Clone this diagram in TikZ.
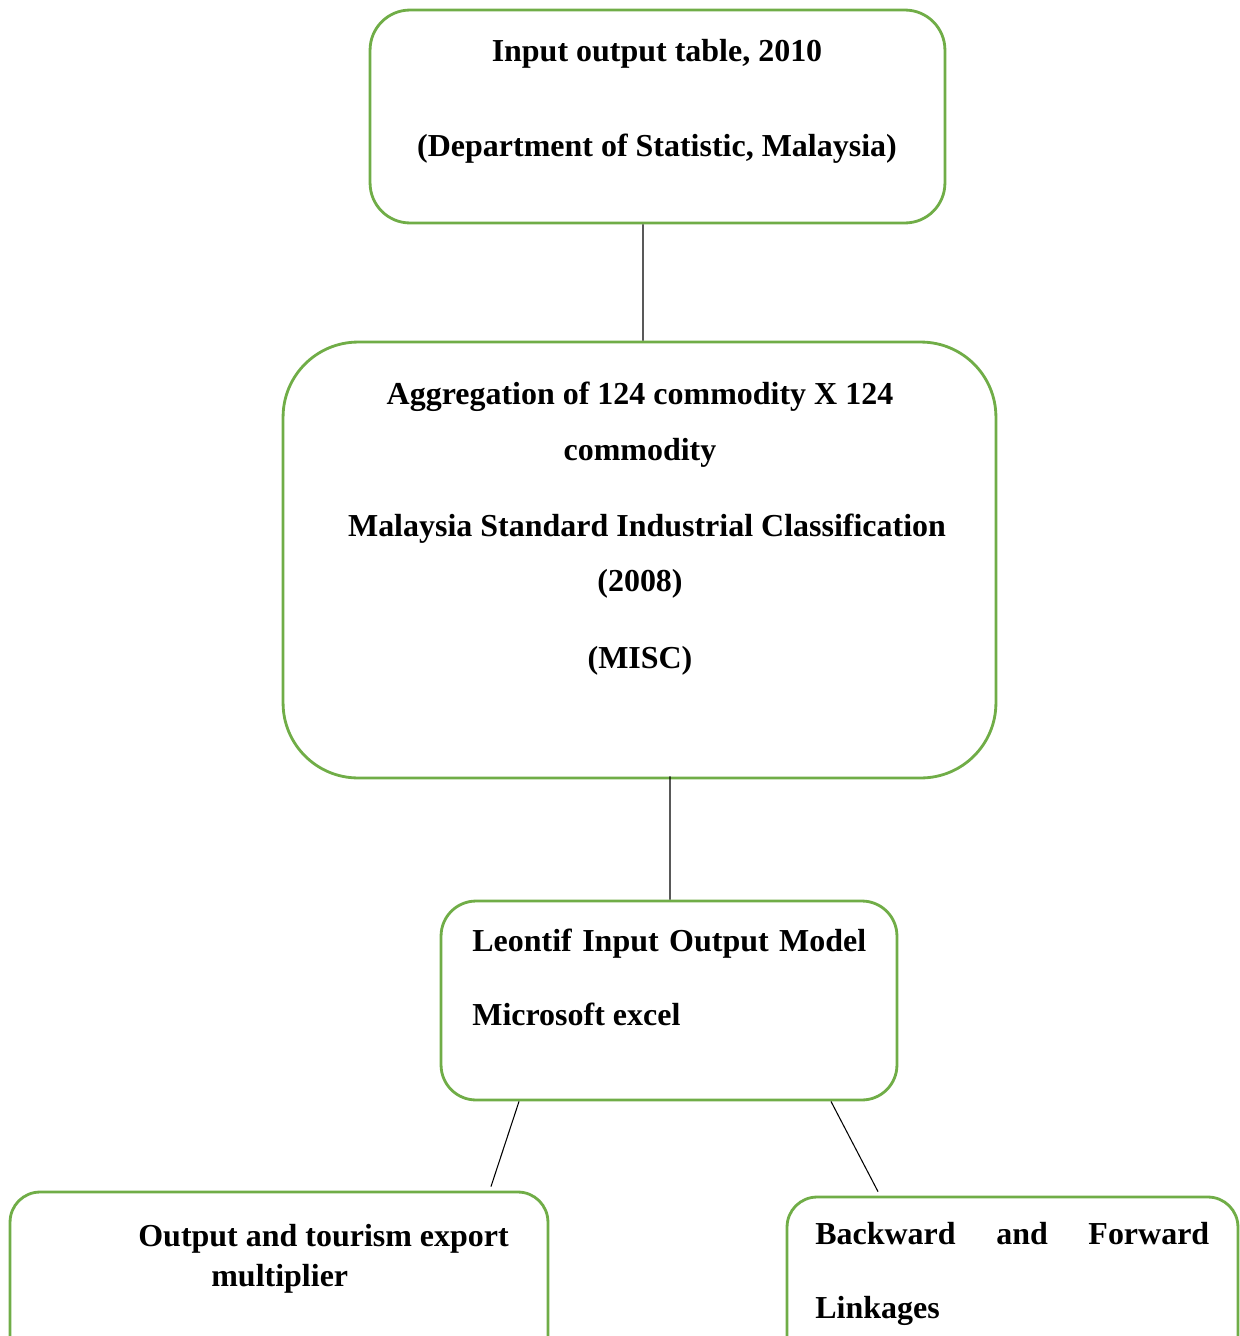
\documentclass[tikz,border=0pt]{standalone}
\usepackage{fontspec}
\setmainfont{Liberation Serif}
\usepackage{xcolor}
\usepackage{tikz}
\definecolor{boxgreen}{RGB}{112,173,71}

\begin{document}
\begin{tikzpicture}[x=0.02cm,y=-0.02cm,
  box/.style={draw=boxgreen, line width=1.6pt, fill=white},
  txt/.style={font=\fontsize{18.2}{22}\selectfont\bfseries, inner sep=0pt},
  link/.style={black, line width=0.6pt}]
  \useasboundingbox (0,0) rectangle (1240,1336);
  % boxes
  \node[box, rounded corners=0.8cm, minimum width=11.5cm, minimum height=4.26cm] (table) at (657.5,116.5) {};
  \node[box, rounded corners=1.5cm, minimum width=14.26cm, minimum height=8.72cm] (aggr) at (639.5,560) {};
  \node[box, rounded corners=0.7cm, minimum width=9.12cm, minimum height=3.98cm] (model) at (669,1000.5) {};
  \node[box, rounded corners=0.6cm, minimum width=10.76cm, minimum height=3.76cm] (mult) at (279,1286) {};
  \node[box, rounded corners=0.6cm, minimum width=9.02cm, minimum height=3.66cm] (link) at (1012.5,1288.5) {};
  % texts
  \node[txt, anchor=base] (t1) at (657,61) {Input output table, 2010};
  \node[txt, anchor=base] (t2) at (657,156) {(Department of Statistic, Malaysia)};
  \node[txt, anchor=base] (a1) at (640,404) {Aggregation of 124 commodity X 124};
  \node[txt, anchor=base] (a2) at (640,460) {commodity};
  \node[txt, anchor=base] (a3) at (647,536) {Malaysia Standard Industrial Classification};
  \node[txt, anchor=base] (a4) at (640,591) {(2008)};
  \node[txt, anchor=base] (a5) at (640,668) {(MISC)};
  \node[txt, anchor=base west] (m1) at (472,951) {\makebox[7.88cm][s]{Leontif Input Output Model}};
  \node[txt, anchor=base west] (m2) at (472,1025) {Microsoft excel};
  \node[txt, anchor=base west] (o1) at (138,1246) {Output and tourism export};
  \node[txt, anchor=base west] (o2) at (211,1286) {multiplier};
  \node[txt, anchor=base west] (l1) at (815,1244) {\makebox[7.88cm][s]{Backward and Forward}};
  \node[txt, anchor=base west] (l2) at (815,1318) {Linkages};
  % connectors
  \draw[link] ([xshift=-0.29cm]table.south) -- ([xshift=0.07cm]aggr.north);
  \draw[link] ([xshift=0.61cm,yshift=0.06cm]aggr.south) -- ([xshift=0.02cm]model.north);
  \draw[link] ([xshift=-3cm]model.south) -- ([xshift=4.24cm,yshift=0.08cm]mult.north);
  \draw[link] ([xshift=3.24cm]model.south) -- ([xshift=-2.69cm,yshift=0.08cm]link.north);
\end{tikzpicture}
\end{document}
